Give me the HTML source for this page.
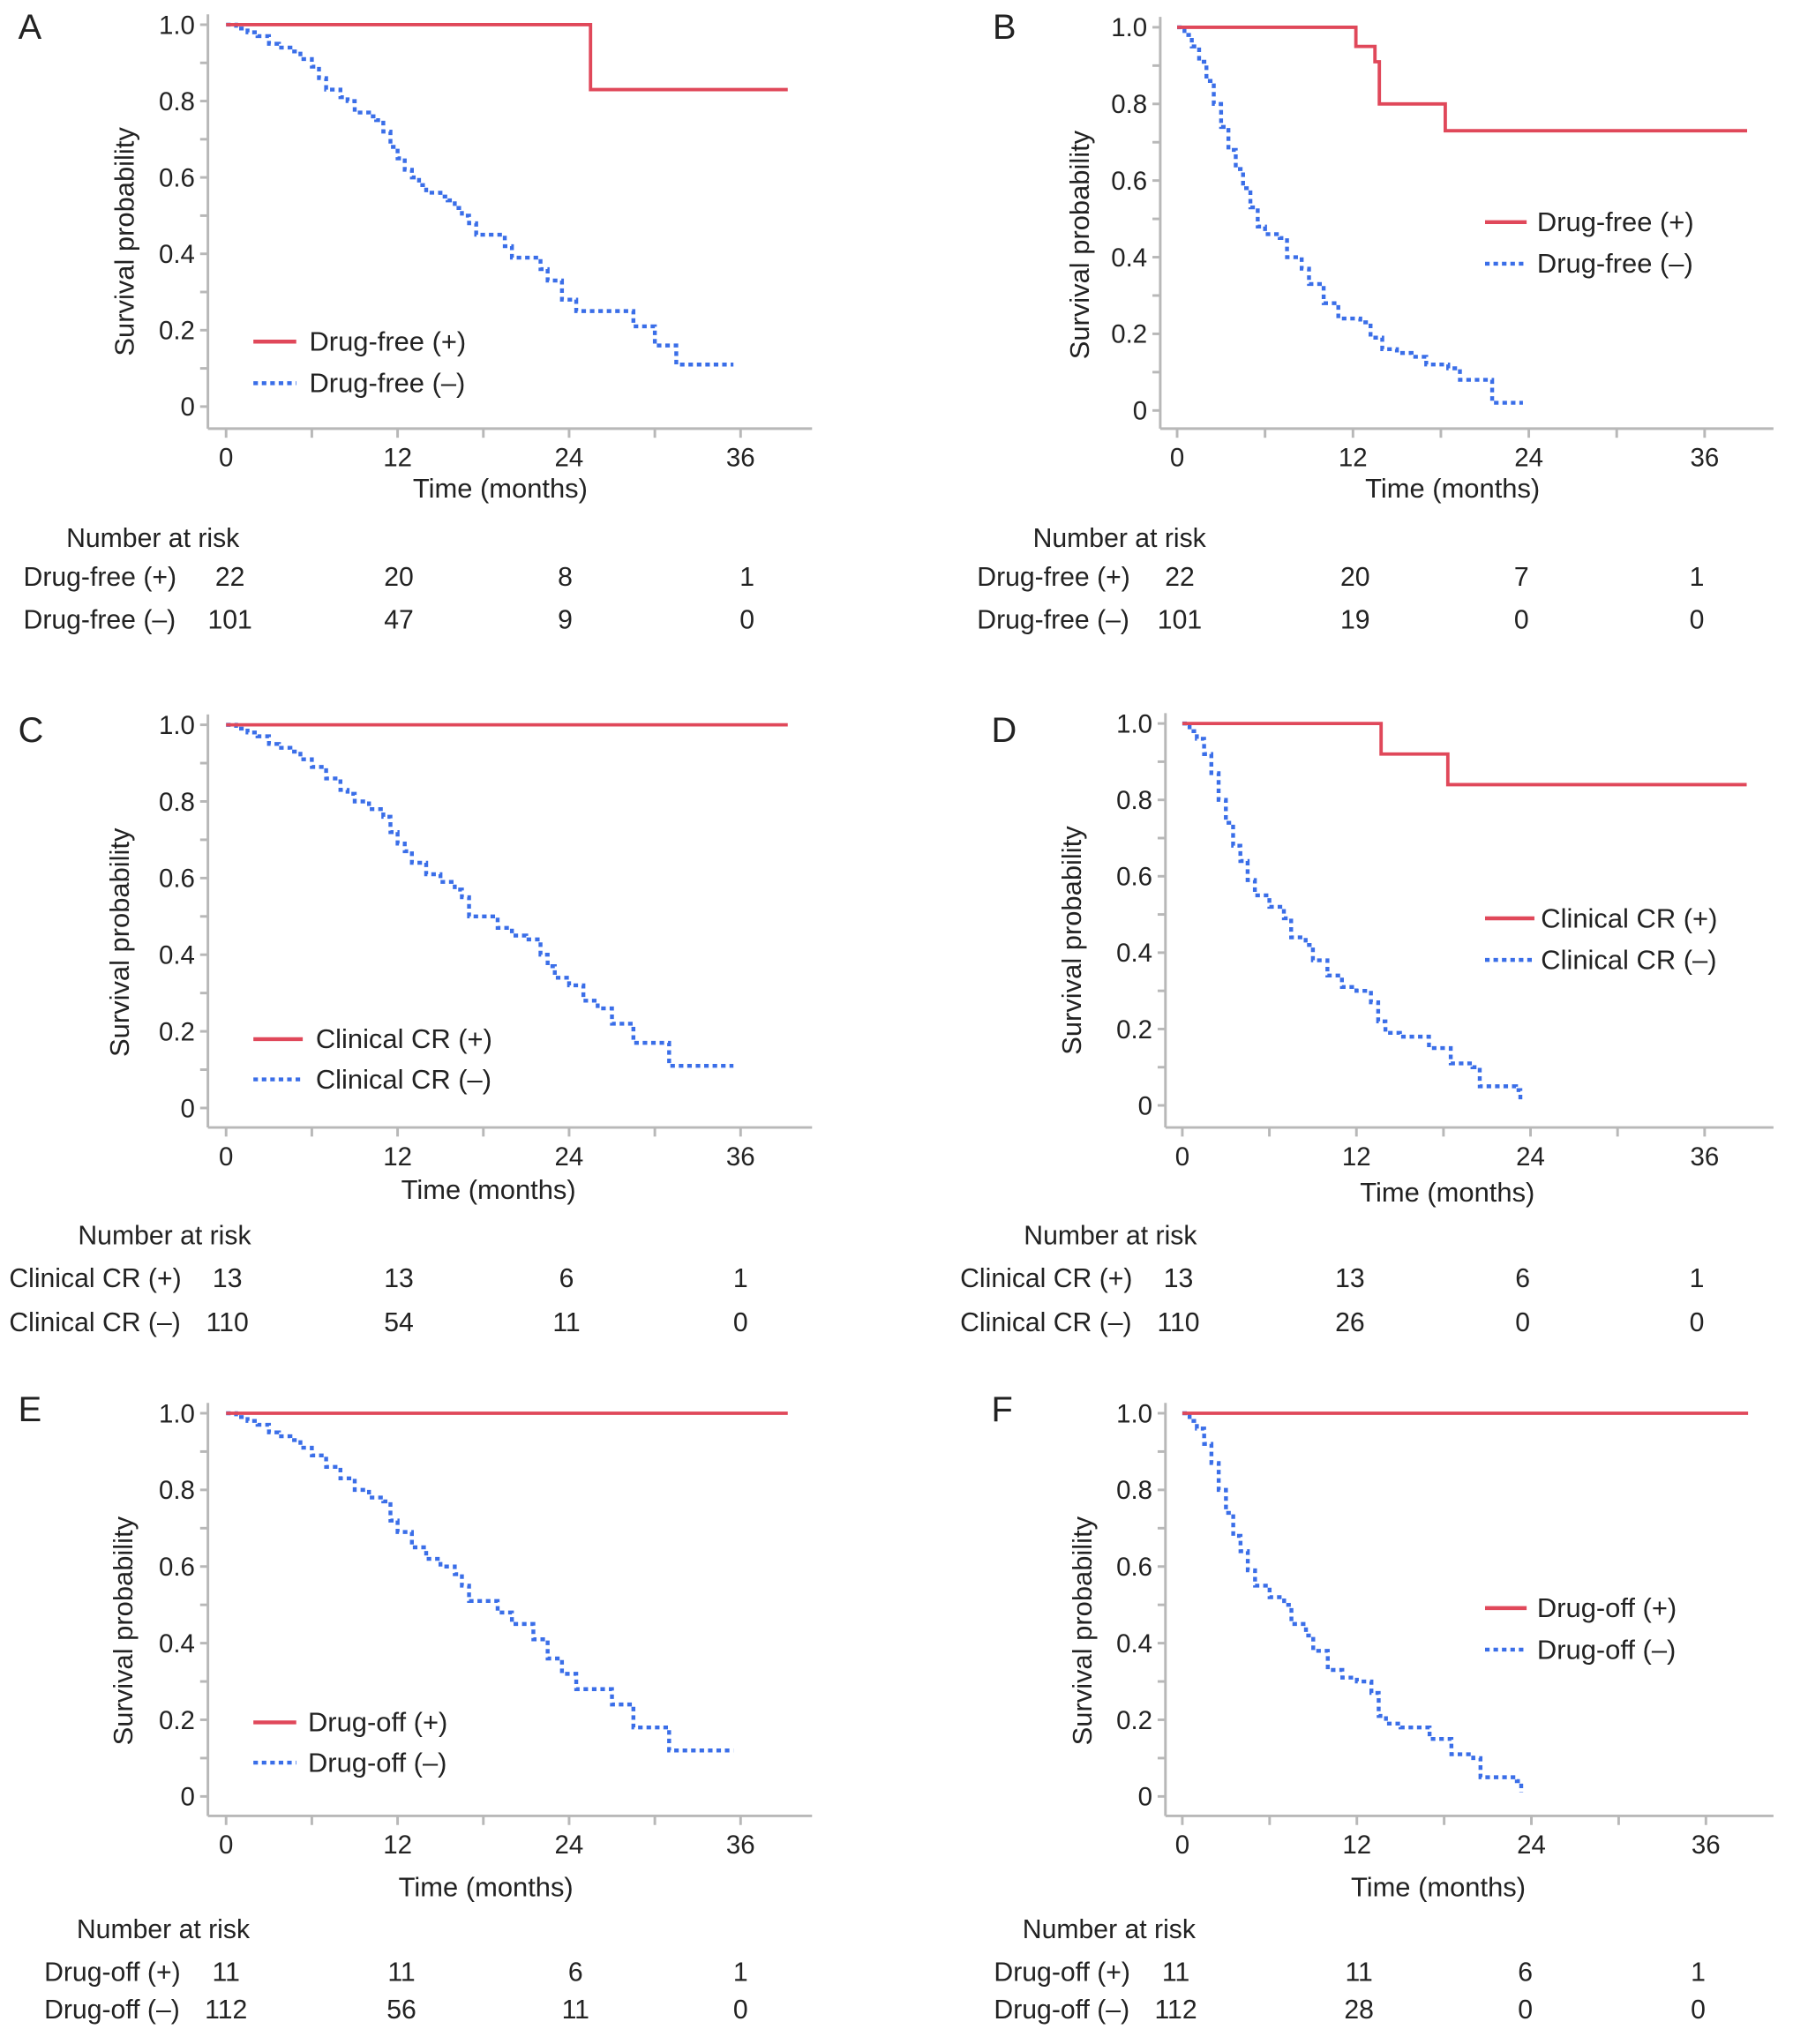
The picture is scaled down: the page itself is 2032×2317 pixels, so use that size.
<!DOCTYPE html>
<html><head><meta charset="utf-8"><style>
html,body{margin:0;padding:0;background:#fff}
svg{display:block}
text{font-family:"Liberation Sans",Arial,sans-serif;fill:#222}
</style></head>
<body>
<svg id="fig" xmlns="http://www.w3.org/2000/svg" width="2032" height="2317" viewBox="0 0 1380 1573.6"></svg>
<script>
// ---------- data (time in months, survival probability) ----------
const xTicks = [0, 12, 24, 36];
const yTicks = [0, 0.2, 0.4, 0.6, 0.8, 1.0];
const yTickLabels = ["0", "0.2", "0.4", "0.6", "0.8", "1.0"];

const aPosT = [0, 25.5, 39.3];
const aPosS = [1, 0.83, 0.83];
const aNegT = [0,0.7,1.5,2.2,3,3.7,4.5,5.2,6,6.5,7,8,8.5,9,10,10.5,11,11.5,12,12.5,13,13.5,14,15,15.5,16,16.5,17,17.5,19,19.5,20,21.5,22,22.5,23.5,24.5,27.5,28.5,30,31.5,35.5];
const aNegS = [1,0.99,0.98,0.97,0.95,0.94,0.93,0.91,0.89,0.86,0.83,0.81,0.80,0.77,0.76,0.75,0.72,0.68,0.65,0.62,0.60,0.58,0.56,0.55,0.54,0.52,0.50,0.48,0.45,0.45,0.42,0.39,0.39,0.36,0.33,0.28,0.25,0.25,0.21,0.16,0.11,0.11];

const bPosT = [0, 12.2, 13.5, 13.8, 18.3, 38.9];
const bPosS = [1, 0.95, 0.91, 0.80, 0.73, 0.73];
const bNegT = [0,0.5,1,1.5,2,2.5,3,3.5,4,4.5,5,5.5,6,7,7.5,8.5,9,10,11,12.5,13.2,14,15,16,17,18.5,19.3,20,21.5,23.6];
const bNegS = [1,0.98,0.95,0.91,0.86,0.80,0.74,0.68,0.63,0.58,0.53,0.48,0.46,0.45,0.40,0.37,0.33,0.28,0.24,0.23,0.19,0.16,0.15,0.14,0.12,0.11,0.08,0.08,0.02,0.02];

const cPosT = [0, 39.3];
const cPosS = [1, 1];
const cNegT = [0,0.7,1.5,2.2,3,3.7,4.5,5.2,6,7,8,8.5,9,10,11,11.5,12,12.5,13,14,15,16,16.5,17,19,20,21,22,22.5,23,24,25,26,27,28.5,31,35.5];
const cNegS = [1,0.99,0.98,0.97,0.95,0.94,0.93,0.91,0.89,0.86,0.83,0.82,0.80,0.78,0.76,0.72,0.69,0.67,0.64,0.61,0.59,0.57,0.55,0.50,0.47,0.45,0.44,0.40,0.37,0.34,0.32,0.28,0.26,0.22,0.17,0.11,0.11];

const dPosT = [0, 13.7, 18.3, 38.9];
const dPosS = [1, 0.92, 0.84, 0.84];
const dNegT = [0,0.5,1,1.5,2,2.5,3,3.5,4,4.5,5,6,7,7.5,8.5,9,10,11,12,13,13.5,14,15,17,18.5,20,20.5,23,23.3];
const dNegS = [1,0.98,0.96,0.92,0.87,0.80,0.74,0.68,0.64,0.59,0.55,0.52,0.49,0.44,0.42,0.38,0.34,0.31,0.30,0.27,0.22,0.19,0.18,0.15,0.11,0.10,0.05,0.04,0.01];

const ePosT = [0, 39.3];
const ePosS = [1, 1];
const eNegT = [0,0.7,1.5,2.2,3,3.7,4.5,5.2,6,7,8,9,10,11,11.5,12,13,14,15,16,16.5,17,19,20,21.5,22.5,23.5,24.5,27,28.5,31,35.5];
const eNegS = [1,0.99,0.98,0.97,0.95,0.94,0.93,0.91,0.89,0.86,0.83,0.80,0.78,0.77,0.72,0.69,0.65,0.62,0.60,0.58,0.55,0.51,0.48,0.45,0.41,0.36,0.32,0.28,0.24,0.18,0.12,0.12];

const fPosT = [0, 38.9];
const fPosS = [1, 1];
const fNegT = [0,0.5,1,1.5,2,2.5,3,3.5,4,4.5,5,6,7,7.5,8.5,9,10,11,12,13,13.5,14,15,17,18.5,20,20.5,23,23.3];
const fNegS = [1,0.98,0.96,0.92,0.87,0.80,0.74,0.68,0.64,0.59,0.55,0.52,0.50,0.45,0.42,0.38,0.33,0.31,0.30,0.27,0.21,0.19,0.18,0.15,0.11,0.10,0.05,0.04,0.01];

const riskA = [["22","20","8","1"],["101","47","9","0"]];
const riskB = [["22","20","7","1"],["101","19","0","0"]];
const riskC = [["13","13","6","1"],["110","54","11","0"]];
const riskD = [["13","13","6","1"],["110","26","0","0"]];
const riskE = [["11","11","6","1"],["112","56","11","0"]];
const riskF = [["11","11","6","1"],["112","28","0","0"]];

// ---------- layout ----------
const panels = [
 {id:"a",letter:"A",lx:14,ly:30,x0:174,x36:570,y1:19,y0:313,ax:160,axB:330,axR:625,pos:[aPosT,aPosS],neg:[aNegT,aNegS],grp:"Drug-free",
  leg:{x1:195,x2:228,tx:238,y:263,dy:32},ytx:97,xtitle:{x:385,y:383},nar:{x:51,y:421},rl:18,ry:[451,484],rx:[177,307,435,575],risk:riskA},
 {id:"b",letter:"B",lx:764,ly:30,x0:906,x36:1312,y1:21,y0:316,ax:893,axB:330,axR:1365,pos:[bPosT,bPosS],neg:[bNegT,bNegS],grp:"Drug-free",
  leg:{x1:1143,x2:1175,tx:1183,y:171,dy:32},ytx:832,xtitle:{x:1118,y:383},nar:{x:795,y:421},rl:752,ry:[451,484],rx:[908,1043,1171,1306],risk:riskB},
 {id:"c",letter:"C",lx:14,ly:571,x0:174,x36:570,y1:558,y0:853,ax:160,axB:868,axR:625,pos:[cPosT,cPosS],neg:[cNegT,cNegS],grp:"Clinical CR",
  leg:{x1:195,x2:233,tx:243,y:800,dy:31},ytx:93,xtitle:{x:376,y:923},nar:{x:60,y:958},rl:7,ry:[991,1025],rx:[175,307,436,570],risk:riskC},
 {id:"d",letter:"D",lx:763,ly:571,x0:910,x36:1312,y1:557,y0:851,ax:897,axB:868,axR:1365,pos:[dPosT,dPosS],neg:[dNegT,dNegS],grp:"Clinical CR",
  leg:{x1:1143,x2:1181,tx:1186,y:707,dy:32},ytx:826,xtitle:{x:1114,y:925},nar:{x:788,y:958},rl:739,ry:[991,1025],rx:[907,1039,1172,1306],risk:riskD},
 {id:"e",letter:"E",lx:14,ly:1094,x0:174,x36:570,y1:1088,y0:1383,ax:160,axB:1398,axR:625,pos:[ePosT,ePosS],neg:[eNegT,eNegS],grp:"Drug-off",
  leg:{x1:195,x2:228,tx:237,y:1326,dy:31},ytx:96,xtitle:{x:374,y:1460},nar:{x:59,y:1492},rl:34,ry:[1525,1554],rx:[174,309,443,570],risk:riskE},
 {id:"f",letter:"F",lx:763,ly:1094,x0:910,x36:1313,y1:1088,y0:1383,ax:897,axB:1398,axR:1365,pos:[fPosT,fPosS],neg:[fNegT,fNegS],grp:"Drug-off",
  leg:{x1:1143,x2:1175,tx:1183,y:1238,dy:32},ytx:834,xtitle:{x:1107,y:1460},nar:{x:787,y:1492},rl:765,ry:[1525,1554],rx:[905,1046,1174,1307],risk:riskF}
];

const NS = "http://www.w3.org/2000/svg";
const svg = document.getElementById("fig");
function mk(tag, attrs, parent, txt){
  const e = document.createElementNS(NS, tag);
  for (const k in attrs) e.setAttribute(k, attrs[k]);
  if (txt !== undefined) e.textContent = txt;
  parent.appendChild(e);
  return e;
}
function stepPath(T, S, xs, ys){
  let d = "M" + xs(T[0]) + "," + ys(S[0]);
  for (let i = 1; i < T.length; i++){
    d += " H" + xs(T[i]) + " V" + ys(S[i]);
  }
  return d;
}

panels.forEach(p => {
  const xs = t => p.x0 + (p.x36 - p.x0) * t / 36;
  const ys = v => p.y0 - (p.y0 - p.y1) * v;
  const g = mk("g", {}, svg);
  
  

  const letter = mk("text", {x:p.lx, y:p.ly, "font-size":27}, g, p.letter);
  
  

  const axes = mk("g", {stroke:"#b8b8b8","stroke-width":2,fill:"none"}, g);
  
  
  mk("line", {x1:p.ax, y1:p.y1-8, x2:p.ax, y2:p.axB}, axes);
  mk("line", {x1:p.ax, y1:p.axB, x2:p.axR, y2:p.axB}, axes);
  for (let v = 0; v <= 10; v++){
    const y = ys(v/10);
    mk("line", {x1:p.ax-6, y1:y, x2:p.ax, y2:y}, axes);
  }
  for (let m = 0; m <= 42; m += 6){
    const x = xs(m);
    if (x > p.axR) break;
    mk("line", {x1:x, y1:p.axB, x2:x, y2:p.axB+7}, axes);
  }
  yTicks.forEach((v, i) => {
    const t = mk("text", {x:p.ax-10, y:ys(v)+7, "font-size":20, "text-anchor":"end"}, g, yTickLabels[i]);
    
    
  });
  xTicks.forEach(m => {
    const t = mk("text", {x:xs(m), y:p.axB+29, "font-size":20, "text-anchor":"middle"}, g, String(m));
    
    
  });
  const cy = (p.y0+p.y1)/2+20;
  const yt = mk("text", {x:p.ytx+6, y:cy, "font-size":21, "text-anchor":"middle",
    transform:"rotate(-90 " + (p.ytx+6) + " " + cy + ")"}, g, "Survival probability");
  
  
  const xt = mk("text", {x:p.xtitle.x, y:p.xtitle.y, "font-size":21, "text-anchor":"middle"}, g, "Time (months)");
  
  

  const neg = mk("path", {d:stepPath(p.neg[0], p.neg[1], xs, ys), stroke:"#3a6ee8", "stroke-width":3, fill:"none", "stroke-dasharray":"3.5,3"}, g);
  
  
  const pos = mk("path", {d:stepPath(p.pos[0], p.pos[1], xs, ys), stroke:"#e0485a", "stroke-width":2.6, fill:"none"}, g);
  
  

  const L = p.leg;
  const l1 = mk("g", {}, g);
  
  
  mk("line", {x1:L.x1, y1:L.y, x2:L.x2, y2:L.y, stroke:"#e0485a", "stroke-width":3}, l1);
  mk("text", {x:L.tx, y:L.y+7, "font-size":21}, l1, p.grp + " (+)");
  const l2 = mk("g", {}, g);
  
  
  mk("line", {x1:L.x1, y1:L.y+L.dy, x2:L.x2, y2:L.y+L.dy, stroke:"#3a6ee8", "stroke-width":3, "stroke-dasharray":"3.5,3"}, l2);
  mk("text", {x:L.tx, y:L.y+L.dy+7, "font-size":21}, l2, p.grp + " (\u2013)");

  const nar = mk("text", {x:p.nar.x, y:p.nar.y, "font-size":20.5}, g, "Number at risk");
  
  
  ["(+)", "(\u2013)"].forEach((s, r) => {
    const lab = mk("text", {x:p.rl, y:p.ry[r], "font-size":20.5}, g, p.grp + " " + s);
    
    
    p.risk[r].forEach((v, i) => {
      const t = mk("text", {x:p.rx[i], y:p.ry[r], "font-size":20.5, "text-anchor":"middle"}, g, v);
      
      
    });
  });
});
</script>
</body></html>
